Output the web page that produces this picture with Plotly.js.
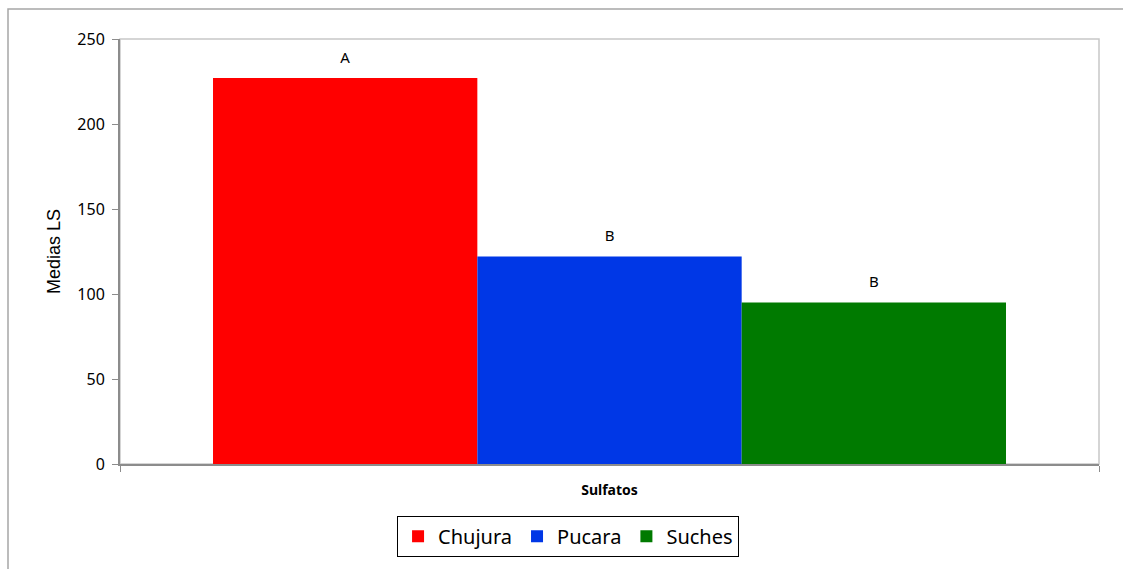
<!DOCTYPE html>
<html>
<head>
<meta charset="utf-8">
<script src="https://cdn.plot.ly/plotly-3.0.1.min.js"></script>
<style>html,body{margin:0;padding:0;background:#fff;}#chart{width:1123px;height:569px;}</style>
</head>
<body>
<div id="chart"></div>
<script>
const categories = ["Sulfatos"];
const seriesNames = ["Chujura", "Pucara", "Suches"];
const seriesValues = [[227], [122], [95]];
const seriesLetters = [["A"], ["B"], ["B"]];
const seriesColors = ["#ff0000", "#0037e6", "#007a00"];
const yTickVals = [0, 50, 100, 150, 200, 250];

const traces = seriesNames.map((name, i) => ({
  type: "bar",
  name: name,
  x: categories,
  y: seriesValues[i],
  text: seriesLetters[i].map(t => "<span style='font-size:15px'>" + t + "</span><br> "),
  textposition: "outside",
  cliponaxis: false,
  textfont: {family: "Noto Sans, sans-serif", size: 8, color: "#000"},
  marker: {color: seriesColors[i], line: {width: 0}},
  hoverinfo: "skip"
}));

const layout = {
  width: 1123, height: 569,
  margin: {l: 120, r: 24, t: 39, b: 105},
  paper_bgcolor: "#fff", plot_bgcolor: "#fff",
  barmode: "group", bargap: 0.19, bargroupgap: 0,
  showlegend: true,
  font: {family: "Noto Sans, sans-serif", color: "#000"},
  xaxis: {
    type: "category",
    showline: true, linecolor: "#8c8c8c", linewidth: 2,
    ticks: "outside", tickson: "boundaries", ticklen: 6, tickcolor: "#8c8c8c", tickwidth: 1,
    tickfont: {family: "Noto Sans, sans-serif", size: 14, weight: "bold", color: "#000"},
    ticklabelstandoff: 12,
    showgrid: false, zeroline: false, fixedrange: true
  },
  yaxis: {
    range: [0, 250], tickvals: yTickVals, ticktext: yTickVals.map(String),
    showline: true, linecolor: "#8c8c8c", linewidth: 2,
    ticks: "outside", ticklen: 6, tickcolor: "#8c8c8c", tickwidth: 1,
    tickfont: {family: "Noto Sans, sans-serif", size: 16, color: "#000"},
    ticklabelstandoff: 4,
    showgrid: false, zeroline: false,
    title: {text: "Medias LS", font: {family: "Liberation Sans, Arial, sans-serif", size: 18, color: "#000"}, standoff: 12},
    fixedrange: true
  },
  legend: {
    orientation: "h", x: 0.283, xanchor: "left", y: -0.122, yanchor: "top",
    bordercolor: "#000", borderwidth: 1, bgcolor: "#fff",
    font: {family: "Noto Sans, sans-serif", size: 20, color: "#000"},
    itemwidth: 30, traceorder: "normal"
  },
  shapes: [
    {type: "rect", xref: "paper", yref: "paper", x0: -0.1144, x1: 1.06, y0: -0.35, y1: 1.0706,
     line: {color: "#a6a6a6", width: 1.5}, fillcolor: "rgba(0,0,0,0)", layer: "below"},
    {type: "rect", xref: "paper", yref: "paper", x0: 0, x1: 1, y0: 0, y1: 1,
     line: {color: "#c8c8c8", width: 1.5}, fillcolor: "rgba(0,0,0,0)", layer: "below"}
  ]
};

Plotly.newPlot("chart", traces, layout, {displayModeBar: false, staticPlot: true});
</script>
</body>
</html>
